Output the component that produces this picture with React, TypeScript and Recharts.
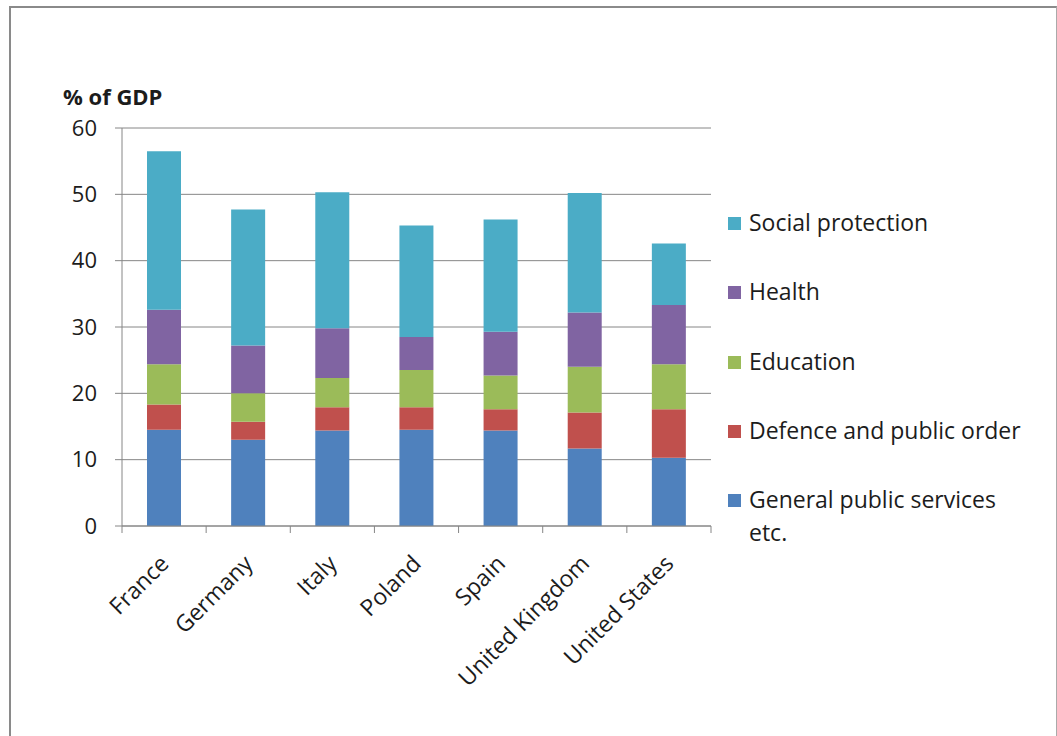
import { BarChart, Bar, XAxis, YAxis, CartesianGrid } from "recharts";

const countries = ["France", "Germany", "Italy", "Poland", "Spain", "United Kingdom", "United States"];
const generalPublic = [14.5, 13.0, 14.4, 14.5, 14.4, 11.7, 10.3];
const defence = [3.8, 2.7, 3.5, 3.4, 3.2, 5.4, 7.3];
const education = [6.1, 4.3, 4.4, 5.6, 5.1, 6.9, 6.8];
const health = [8.2, 7.2, 7.5, 5.0, 6.6, 8.2, 8.9];
const social = [23.9, 20.5, 20.5, 16.8, 16.9, 18.0, 9.3];
const yTicks = [0, 10, 20, 30, 40, 50, 60];

const series = [
  { key: "gps", name: "General public services etc.", color: "#4F81BD", values: generalPublic },
  { key: "def", name: "Defence and public order", color: "#C0504D", values: defence },
  { key: "edu", name: "Education", color: "#9BBB59", values: education },
  { key: "hea", name: "Health", color: "#8064A2", values: health },
  { key: "soc", name: "Social protection", color: "#4BACC6", values: social },
];

const data = countries.map((c, i) => {
  const row: Record<string, string | number> = { country: c };
  series.forEach((s) => (row[s.key] = s.values[i]));
  return row;
});

const W = 1057;
const H = 736;
const MARGIN = { top: 128, right: 346, bottom: 60, left: 0 };
const Y_W = 122;
const BAND = (W - MARGIN.left - MARGIN.right - Y_W) / countries.length;
const AXIS = "#868686";
const FONT = "'Open Sans', Lato, sans-serif";
const TEXT = "#1c1c1c";

function CountryTick(props: any) {
  const { x, y, payload, index } = props;
  const half = BAND / 2;
  const tx = x + 6;
  const ty = y + 39;
  return (
    <g>
      <line x1={x - half} x2={x - half} y1={y} y2={y + 7} stroke={AXIS} />
      {index === countries.length - 1 && (
        <line x1={x + half} x2={x + half} y1={y} y2={y + 7} stroke={AXIS} />
      )}
      <text
        x={tx}
        y={ty}
        transform={`rotate(-45, ${tx}, ${ty})`}
        textAnchor="end"
        fontSize={23}
        fontFamily={FONT}
        fill={TEXT}
      >
        {payload.value}
      </text>
    </g>
  );
}

function LegendBox() {
  return (
    <div style={{ position: "absolute", left: 728, top: 206, fontFamily: FONT, fontSize: 23, color: TEXT }}>
      {[...series].reverse().map((s) => (
        <div key={s.key} style={{ display: "flex", alignItems: "flex-start", height: 69.3 }}>
          <div style={{ width: 13, height: 13, background: s.color, marginTop: 11, marginRight: 8, flexShrink: 0 }} />
          <div style={{ width: 282, lineHeight: "33px" }}>{s.name}</div>
        </div>
      ))}
    </div>
  );
}

export default function App() {
  return (
    <div style={{ position: "absolute", left: 0, top: 0, width: W, height: H, overflow: "hidden", background: "#fff" }}>
      <div
        style={{
          position: "absolute",
          left: 9,
          top: 6,
          width: 1045,
          height: 760,
          borderTop: "2px solid #8a8a8a",
          borderLeft: "2px solid #8a8a8a",
          borderRight: "1px solid #aaaaaa",
        }}
      />
      <div
        style={{
          position: "absolute",
          left: 63,
          top: 81,
          fontFamily: FONT,
          fontSize: 22,
          fontWeight: 700,
          color: TEXT,
        }}
      >
        % of GDP
      </div>
      <div style={{ position: "absolute", left: 0, top: 0 }}>
        <BarChart width={W} height={H} data={data} margin={MARGIN} barSize={34}>
          <CartesianGrid vertical={false} stroke={AXIS} strokeWidth={1} />
          <XAxis
            dataKey="country"
            height={150}
            interval={0}
            tickSize={0}
            tickMargin={0}
            tickLine={false}
            axisLine={{ stroke: AXIS }}
            tick={<CountryTick />}
          />
          <YAxis
            width={Y_W}
            domain={[0, 60]}
            ticks={yTicks}
            interval={0}
            tickSize={7}
            tickMargin={18}
            axisLine={{ stroke: AXIS }}
            tickLine={{ stroke: AXIS }}
            tick={{ fontSize: 22, fontFamily: FONT, fill: TEXT }}
          />
          {series.map((s) => (
            <Bar key={s.key} dataKey={s.key} name={s.name} stackId="a" fill={s.color} isAnimationActive={false} />
          ))}
        </BarChart>
      </div>
      <LegendBox />
    </div>
  );
}
